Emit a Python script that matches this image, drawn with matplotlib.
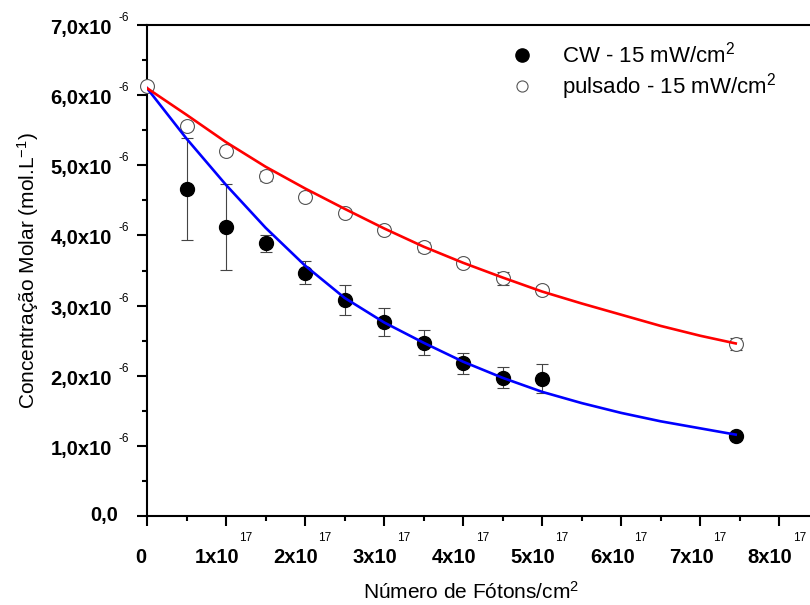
import numpy as np
import matplotlib
matplotlib.use('Agg')
import matplotlib.pyplot as plt
from matplotlib.lines import Line2D
from matplotlib import transforms

plt.rcParams['font.family'] = ['Liberation Sans', 'DejaVu Sans']
plt.rcParams['mathtext.fontset'] = 'custom'
plt.rcParams['mathtext.rm'] = 'Liberation Sans'
plt.rcParams['mathtext.it'] = 'Liberation Sans:italic'
plt.rcParams['mathtext.bf'] = 'Liberation Sans:bold'

# data (x in 1e17 photons/cm2, y in 1e-6 mol/L)
x_cw = [0.5, 1.0, 1.5, 2.0, 2.5, 3.0, 3.5, 4.0, 4.5, 5.0, 7.45]
y_cw = [4.66, 4.12, 3.89, 3.47, 3.08, 2.76, 2.47, 2.18, 1.97, 1.96, 1.14]
err_cw = [0.73, 0.61, 0.12, 0.165, 0.21, 0.20, 0.18, 0.15, 0.15, 0.21, 0.04]

x_pul = [0, 0.5, 1.0, 1.5, 2.0, 2.5, 3.0, 3.5, 4.0, 4.5, 5.0, 7.45]
y_pul = [6.13, 5.56, 5.20, 4.85, 4.55, 4.32, 4.08, 3.84, 3.61, 3.39, 3.22, 2.45]
err_pul = [0, 0.06, 0.06, 0.07, 0.05, 0.05, 0.05, 0.07, 0.06, 0.09, 0.06, 0.09]

# fitted decay curves
x_fit = [0, 0.5, 1.0, 1.5, 2.0, 2.5, 3.0, 3.5, 4.0, 4.5, 5.0, 5.5, 6.0, 6.5, 7.0, 7.45]
fit_cw = [6.10, 5.38, 4.72, 4.11, 3.57, 3.11, 2.76, 2.47, 2.20, 1.97, 1.77, 1.61, 1.47, 1.35, 1.25, 1.16]
fit_pul = [6.10, 5.72, 5.33, 4.98, 4.67, 4.38, 4.10, 3.84, 3.61, 3.40, 3.20, 3.03, 2.87, 2.71, 2.57, 2.46]

x_ticks = [0, 1, 2, 3, 4, 5, 6, 7, 8]
y_ticks = [0, 1, 2, 3, 4, 5, 6, 7]
y_ticklabels = ['0,0', '1,0x10', '2,0x10', '3,0x10', '4,0x10', '5,0x10', '6,0x10', '7,0x10']

fig = plt.figure(figsize=(8.1, 6.05), dpi=100)
ax = fig.add_axes([147/810, 1 - 516/605, 1 - 147/810, (516 - 25)/605])

sx, sy = 1e17, 1e-6
ax.plot(np.array(x_fit)*sx, np.array(fit_cw)*sy, color='#0000ff', lw=1.9, zorder=4)
ax.plot(np.array(x_fit)*sx, np.array(fit_pul)*sy, color='#ff0000', lw=1.9, zorder=4)

ax.errorbar(np.array(x_cw)*sx, np.array(y_cw)*sy, yerr=np.array(err_cw)*sy,
            fmt='o', color='black', ms=10, ecolor='#444444', elinewidth=0.8,
            capsize=4, capthick=0.8, zorder=3)
eb = ax.errorbar(np.array(x_pul)*sx, np.array(y_pul)*sy, yerr=np.array(err_pul)*sy,
                 fmt='o', mfc='white', mec='#555555', mew=0.8, ms=10, ecolor='#444444',
                 elinewidth=0.8, capsize=4, capthick=0.8, zorder=3)
eb[0].set_clip_on(False)

ax.set_xlim(0, 8.39e17)
ax.set_ylim(0, 7e-6)
ax.set_xticks(np.array(x_ticks)*sx)
ax.set_xticks(np.arange(0.5, 8.4, 1.0)*sx, minor=True)
ax.set_yticks(np.array(y_ticks)*sy)
ax.set_yticks(np.arange(0.5, 7, 1.0)*sy, minor=True)
ax.tick_params(which='major', direction='out', length=7, width=1.5,
               labelbottom=False, labelleft=False)
ax.tick_params(which='minor', direction='out', length=3.5, width=1.5)
for s in ['left', 'bottom', 'top']:
    ax.spines[s].set_linewidth(1.5)
ax.spines['right'].set_visible(False)

# tick labels with separate raised exponents
px = 0.72  # points per pixel
xtr = transforms.blended_transform_factory(ax.transData, ax.transAxes)
for t in x_ticks:
    if t == 0:
        ax.text(0, 0, '0', transform=xtr + transforms.ScaledTranslation(-6*px/72, -32*px/72, fig.dpi_scale_trans),
                ha='center', va='top', fontsize=14.5, fontweight='bold')
        continue
    ax.text(t*sx, 0, f'{t}x10', transform=xtr + transforms.ScaledTranslation(-9*px/72, -32*px/72, fig.dpi_scale_trans),
            ha='center', va='top', fontsize=14.5, fontweight='bold')
    ax.text(t*sx, 0, '17', transform=xtr + transforms.ScaledTranslation(20*px/72, -16*px/72, fig.dpi_scale_trans),
            ha='center', va='top', fontsize=8.5)

ytr = transforms.blended_transform_factory(ax.transAxes, ax.transData)
for t, lab in zip(y_ticks, y_ticklabels):
    if t == 0:
        ax.text(0, 0, lab, transform=ytr + transforms.ScaledTranslation(-29*px/72, 0, fig.dpi_scale_trans),
                ha='right', va='center', fontsize=14.5, fontweight='bold')
        continue
    ax.text(0, t*sy, lab, transform=ytr + transforms.ScaledTranslation(-35*px/72, -3.5*px/72, fig.dpi_scale_trans),
            ha='right', va='center', fontsize=14.5, fontweight='bold')
    ax.text(0, t*sy, '-6', transform=ytr + transforms.ScaledTranslation(-23*px/72, 7*px/72, fig.dpi_scale_trans),
            ha='center', va='center', fontsize=8.5)

ax.set_ylabel('Concentração Molar (mol.L$^{-1}$)', fontsize=15)
ax.yaxis.set_label_coords(-0.16, 0.5)
ax.set_xlabel('Número de Fótons/cm$^2$', fontsize=15)
ax.xaxis.set_label_coords(0.489, -0.133)

handles = [Line2D([], [], marker='o', ls='none', color='black', ms=9.5),
           Line2D([], [], marker='o', ls='none', mfc='white', mec='#555555', mew=0.8, ms=8)]
ax.legend(handles, ['CW - 15 mW/cm$^2$', 'pulsado - 15 mW/cm$^2$'],
          loc='upper left', bbox_to_anchor=(511/810, 1 - 42/605), bbox_transform=fig.transFigure,
          frameon=False, fontsize=16, handlelength=1.0, handletextpad=1.3,
          labelspacing=0.15, borderpad=0, borderaxespad=0)

fig.savefig('out.png', dpi=100)
